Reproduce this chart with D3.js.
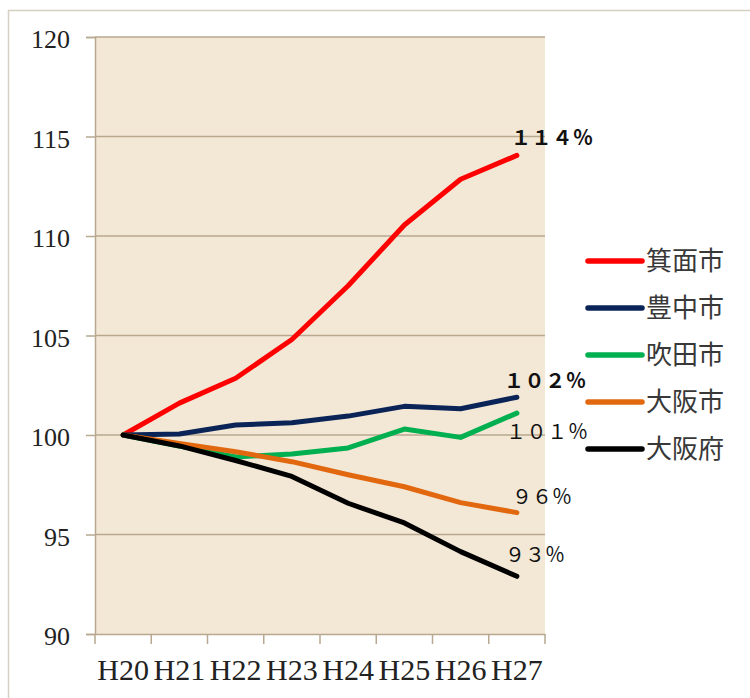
<!DOCTYPE html>
<html><head><meta charset="utf-8">
<script src="https://cdn.jsdelivr.net/npm/d3@7"></script>
<style>html,body{margin:0;padding:0;background:#fff;}svg{display:block;}</style>
</head><body>
<svg id="chart" width="750" height="698"></svg>
<script>
const categories = ["H20","H21","H22","H23","H24","H25","H26","H27"];
const seriesNames = ["箕面市","豊中市","吹田市","大阪市","大阪府"];
const minoh   = [100, 101.6, 102.85, 104.8, 107.5, 110.55, 112.85, 114.05];
const toyonaka= [100, 100.05, 100.5, 100.62, 100.95, 101.44, 101.32, 101.9];
const suita   = [100, 99.45, 98.9, 99.05, 99.35, 100.3, 99.88, 101.1];
const osakaCity=[100, 99.58, 99.16, 98.66, 98.0, 97.4, 96.6, 96.1];
const osakaPref=[100, 99.45, 98.72, 97.92, 96.57, 95.58, 94.14, 92.9];
const endLabels = ["１１４％","１０２％","１０１％","９６％","９３％"];
const yTicks = [90, 95, 100, 105, 110, 115, 120];

const seriesValues = [minoh, toyonaka, suita, osakaCity, osakaPref];
const colors = ["#ff0000","#0b2458","#00b050","#e2680f","#000000"];
// label placement relative to last point (style config)
const labelCfg = [
  {dx:-6, dy:-10, len:82, weight:"bold"},
  {dx:-13, dy:-9, len:82, weight:"bold"},
  {dx:-11, dy:26, len:82, weight:"normal"},
  {dx:-5, dy:-9, len:60, weight:"normal"},
  {dx:-12, dy:-14, len:60, weight:"normal"}
];

const svg = d3.select("#chart");
const L = 95, R = 545, T = 37, B = 634;

// outer frame
svg.append("rect").attr("x",8.5).attr("y",10.5).attr("width",800).attr("height",800)
  .attr("fill","none").attr("stroke","#d8cfc3").attr("stroke-width",1.5);

const x = d3.scaleBand().domain(categories).range([L, R]);
const y = d3.scaleLinear().domain([90,120]).range([B, T]);

svg.append("rect").attr("x",L).attr("y",T).attr("width",R-L).attr("height",B-T).attr("fill","#f3e7d5");

// gridlines
svg.append("g").selectAll("line").data(yTicks.filter(d=>d>90)).join("line")
  .attr("x1",L).attr("x2",R).attr("y1",d=>y(d)).attr("y2",d=>y(d))
  .attr("stroke","#b7a88f").attr("stroke-width",1.5);

// y axis
const yAxis = svg.append("g").attr("transform",`translate(${L},0)`)
  .call(d3.axisLeft(y).tickValues(yTicks).tickSize(9).tickPadding(16).tickFormat(d3.format("d")));
yAxis.select(".domain").attr("stroke","#b7a88f").attr("stroke-width",1.5);
yAxis.selectAll(".tick line").attr("stroke","#b7a88f").attr("stroke-width",1.5);
yAxis.selectAll("text").attr("font-family","'Liberation Serif',serif").attr("font-size",26)
  .attr("fill","#222").attr("dy","0.42em");

// x axis
const xAxis = svg.append("g").attr("transform",`translate(0,${B})`)
  .call(d3.axisBottom(x).tickSize(0).tickPadding(0));
xAxis.select(".domain").attr("stroke","#b7a88f").attr("stroke-width",1.5);
xAxis.selectAll(".tick text").attr("font-family","'Liberation Serif',serif").attr("font-size",30)
  .attr("fill","#222").attr("y",46).attr("dy",0);
// x tick marks at band boundaries
const bounds = categories.map(c=>x(c)).concat([R]);
svg.append("g").selectAll("line").data(bounds).join("line")
  .attr("x1",d=>d).attr("x2",d=>d).attr("y1",B).attr("y2",B+10)
  .attr("stroke","#b7a88f").attr("stroke-width",1.5);

// lines
const line = d3.line().x((d,i)=>x(categories[i])+x.bandwidth()/2).y(d=>y(d));
svg.append("g").selectAll("path").data(seriesValues).join("path")
  .attr("d",line).attr("fill","none")
  .attr("stroke",(d,i)=>colors[i]).attr("stroke-width",5)
  .attr("stroke-linecap","round").attr("stroke-linejoin","round");

// end labels
const lastX = x(categories[categories.length-1])+x.bandwidth()/2;
svg.append("g").selectAll("text").data(seriesValues).join("text")
  .attr("x",(d,i)=>lastX+labelCfg[i].dx)
  .attr("y",(d,i)=>y(d[d.length-1])+labelCfg[i].dy)
  .attr("font-family","'Noto Sans CJK JP',sans-serif")
  .attr("font-weight",(d,i)=>labelCfg[i].weight)
  .attr("font-size",20).attr("fill","#111")
  .attr("textLength",(d,i)=>labelCfg[i].len).attr("lengthAdjust","spacing")
  .text((d,i)=>endLabels[i]);

// legend
const lg = svg.append("g");
seriesNames.forEach((n,i)=>{
  const yy = 261 + i*47;
  lg.append("line").attr("x1",588).attr("x2",642).attr("y1",yy).attr("y2",yy)
    .attr("stroke",colors[i]).attr("stroke-width",5.5).attr("stroke-linecap","round");
  lg.append("text").attr("x",646).attr("y",yy).attr("dy","0.36em")
    .attr("font-family","'Noto Sans CJK JP',sans-serif").attr("font-size",26)
    .attr("fill","#383838").text(n);
});
</script>
</body></html>
